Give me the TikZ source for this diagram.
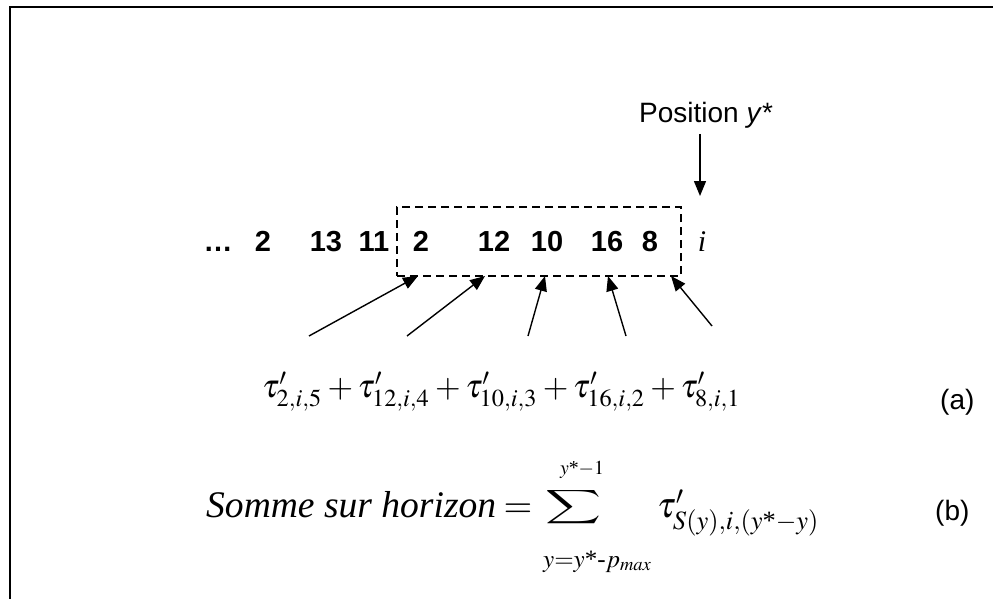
\documentclass[tikz,border=0pt]{standalone}
\usepackage{amsmath}
\usepackage{mathptmx}
\usepackage[no-math]{fontspec}
\setmainfont{Liberation Serif}
\newfontfamily\arialf{Liberation Sans}
\usetikzlibrary{arrows.meta}
\newcommand{\bigsumglyph}{{\fontencoding{OMX}\fontfamily{cmex}\fontseries{m}\fontshape{n}\selectfont\char"58}}
\begin{document}
\begin{tikzpicture}[x=1pt,y=-1pt,
  numtxt/.style={font=\arialf\bfseries\fontsize{29}{30}\selectfont, inner sep=0, anchor=base},
  pointer/.style={-{Triangle[length=15pt,width=12pt]}, line width=1.4pt},
  lbl/.style={font=\arialf\fontsize{28}{30}\selectfont, inner sep=0, anchor=base west},
  mathpart/.style={inner sep=0},
  frameline/.style={line width=1.8pt}]
\useasboundingbox (0,0) rectangle (993,599);
\draw[frameline] (10,599) -- (10,7) -- (993,7);

% Position y*
\node[font=\arialf\fontsize{28}{30}\selectfont, inner sep=0, anchor=base west] (pos) at (639,123) {Position \textit{y}*};
\coordinate (pa) at (700,134);
\coordinate (pb) at (700,196);
\draw[pointer] (pa) -- (pb);

% window box
\node[draw, dash pattern=on 8pt off 5pt, line width=1.6pt, minimum width=284pt, minimum height=69pt, inner sep=0] (win) at (539,241.5) {};

% sequence
\node[numtxt] (d0) at (218,251) {…};
\node[numtxt] (n1) at (263,251) {2};
\node[numtxt] (n2) at (326,251) {13};
\node[numtxt] (n3) at (374,251) {11};
\node[numtxt] (n4) at (421,251) {2};
\node[numtxt] (n5) at (494,251) {12};
\node[numtxt] (n6) at (547,251) {10};
\node[numtxt] (n7) at (607,251) {16};
\node[numtxt] (n8) at (650,251) {8};
\node[font=\fontsize{30}{32}\selectfont\itshape, inner sep=0, anchor=base] (ii) at (702,251) {i};

% arrows into window
\coordinate (s1) at (309,336); \coordinate (h1) at (418,276);
\coordinate (s2) at (407,336); \coordinate (h2) at (485,276);
\coordinate (s3) at (528,336); \coordinate (h3) at (545,276);
\coordinate (s4) at (626,336); \coordinate (h4) at (608,276);
\coordinate (s5) at (712,326); \coordinate (h5) at (671,276);
\foreach \k in {1,...,5} {\draw[pointer] (s\k) -- (h\k);}

% formula (a)
\node[mathpart, anchor=base west] (fa) at (262,397)
  {\resizebox{479pt}{!}{$\tau'_{2,i,5}+\tau'_{12,i,4}+\tau'_{10,i,3}+\tau'_{16,i,2}+\tau'_{8,i,1}$}};
\node[lbl] (la) at (940,409) {(a)};

% formula (b)
\node[mathpart, anchor=base west] (bs) at (206,517) {\resizebox{290pt}{!}{\itshape Somme sur horizon}};
\node[mathpart, anchor=base] (beq) at (518,517) {\fontsize{37}{40}\selectfont$=$};
\node[mathpart] (bsum) at (573,507) {\resizebox*{56pt}{38pt}{\bigsumglyph}};
\node[mathpart, anchor=base] (bup) at (582,474) {\resizebox{44pt}{!}{$y\text{*}{-}1$}};
\node[mathpart, anchor=base west] (blow) at (543,567) {\resizebox{109pt}{!}{$y{=}y\text{*-}p_{\mathit{max}}$}};
\node[mathpart, anchor=base west] (btau) at (657,517) {\resizebox{163pt}{!}{$\tau'_{S(y),i,(y\text{*}-y)}$}};
\node[lbl] (lb) at (935,520) {(b)};
\end{tikzpicture}
\end{document}
